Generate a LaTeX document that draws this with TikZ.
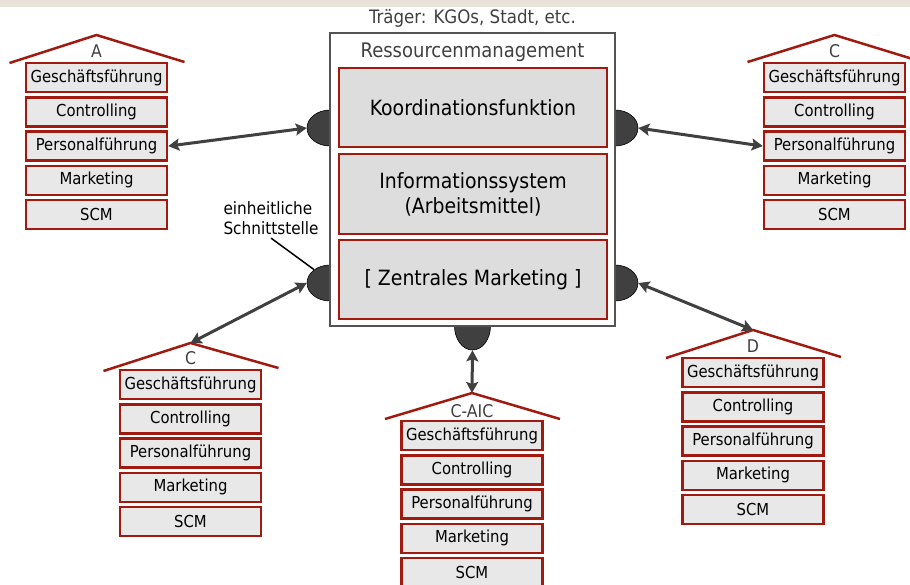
\documentclass[tikz,border=0pt]{standalone}
\usepackage{fontspec}
\setmainfont{DejaVu Sans Condensed}
\usepackage{xcolor}
\usetikzlibrary{arrows.meta,shapes.geometric}

\definecolor{darkred}{HTML}{A01A10}
\definecolor{boxgray}{HTML}{E8E8E8}
\definecolor{biggray}{HTML}{DDDDDD}
\definecolor{ink}{HTML}{404040}
\definecolor{band}{HTML}{E8E2D8}

\begin{document}
\begin{tikzpicture}[x=1pt,y=-1pt,
  unit/.style={draw=darkred,line width=2.5pt,fill=boxgray,minimum width=141pt,
    minimum height=29pt,inner sep=0pt,font=\fontsize{16.5}{18}\selectfont},
  roof/.style={draw=darkred,line width=2.5pt},
  tag/.style={text=ink,font=\fontsize{17.5}{18}\selectfont},
  field/.style={draw=darkred,line width=2.5pt,fill=biggray,minimum width=268pt,
    align=center,inner sep=0pt,font=\fontsize{21}{25}\selectfont},
  port/.style={ellipse,draw=black,fill=ink,line width=0.6pt,inner sep=0pt},
  link/.style={draw=ink,line width=3pt,{Stealth[length=11pt,width=12pt,inset=2pt]}-{Stealth[length=11pt,width=12pt,inset=2pt]}}]
  \useasboundingbox (0,0) rectangle (910,584);
  \fill[band] (0,0) rectangle (910,7);

  % interfaces, the box covers their inner halves
  \node[port,minimum width=46pt,minimum height=36pt] (el-lt) at (330,128) {};
  \node[port,minimum width=46pt,minimum height=36pt] (el-rt) at (615,128) {};
  \node[port,minimum width=46pt,minimum height=36pt] (el-lb) at (330,283) {};
  \node[port,minimum width=46pt,minimum height=36pt] (el-rb) at (615,283) {};
  \node[port,minimum width=36pt,minimum height=48pt] (el-b) at (472.5,326) {};

  % resource management block
  \node[draw=ink!90,line width=2.5pt,fill=white,minimum width=285pt,minimum height=293pt] (rm) at (472.5,179.5) {};
  \node[text=ink,font=\fontsize{18.5}{20}\selectfont] (tr) at (472.5,18) {Träger: KGOs, Stadt, etc.};
  \node[text=ink,font=\fontsize{20}{22}\selectfont] (rm-title) at (472.5,52) {Ressourcenmanagement};
  \node[field,minimum height=79pt] (kf) at (473,107.5) {Koordinationsfunktion};
  \node[field,minimum height=80pt] (is) at (473,194) {Informationssystem\\(Arbeitsmittel)};
  \node[field,minimum height=79pt] (zm) at (473,279.5) {[ Zentrales Marketing ]};

  % House A
  \begin{scope}[shift={(96.5,62)}]
    \draw[roof] (-87,1) -- (0,-27) coordinate (A-top) -- (88,0);
    \node[tag] (A-name) at (0,-11) {A};
    \foreach \t [count=\i] in {Geschäftsführung,Controlling,Personalführung,Marketing,SCM}
      \node[unit] (A-\i) at (0,{15.5+34.3*(\i-1)}) {\t};
  \end{scope}
  % House C, right
  \begin{scope}[shift={(834.5,62)}]
    \draw[roof] (-87,0) -- (0,-27) coordinate (Cr-top) -- (88,0);
    \node[tag] (Cr-name) at (0,-11) {C};
    \foreach \t [count=\i] in {Geschäftsführung,Controlling,Personalführung,Marketing,SCM}
      \node[unit] (Cr-\i) at (0,{15.5+34.3*(\i-1)}) {\t};
  \end{scope}
  % House C, bottom left
  \begin{scope}[shift={(190.5,369)}]
    \draw[roof] (-87,2) -- (0,-26) coordinate (Cl-top) -- (88,-1);
    \node[tag] (Cl-name) at (0,-11) {C};
    \foreach \t [count=\i] in {Geschäftsführung,Controlling,Personalführung,Marketing,SCM}
      \node[unit] (Cl-\i) at (0,{15.5+34.3*(\i-1)}) {\t};
  \end{scope}
  % House C-AIC
  \begin{scope}[shift={(472,420)}]
    \draw[roof] (-87,-1) -- (0,-27) coordinate (Ca-top) -- (88,-1);
    \node[tag] (Ca-name) at (0,-9) {C-AIC};
    \foreach \t [count=\i] in {Geschäftsführung,Controlling,Personalführung,Marketing,SCM}
      \node[unit] (Ca-\i) at (0,{15.5+34.3*(\i-1)}) {\t};
  \end{scope}
  % House D
  \begin{scope}[shift={(753,357)}]
    \draw[roof] (-87,1) -- (0,-27) coordinate (D-top) -- (88,0);
    \node[tag] (D-name) at (0,-11) {D};
    \foreach \t [count=\i] in {Geschäftsführung,Controlling,Personalführung,Marketing,SCM}
      \node[unit] (D-\i) at (0,{15.5+34.3*(\i-1)}) {\t};
  \end{scope}

  % links
  \draw[link] (A-3.east) -- (el-lt.west);
  \draw[link] (el-rt.east) -- (Cr-3.west);
  \draw[link] (Cl-top) -- (el-lb.west);
  \draw[link] (el-b.south) -- (Ca-top);
  \draw[link] (el-rb.east) -- (D-top);

  % note on the interface
  \node[align=left,anchor=west,font=\fontsize{17}{20}\selectfont] (note) at (220,218) {einheitliche\\Schnittstelle};
  \draw[line width=1.5pt] (note.south) -- (el-lb.140);
\end{tikzpicture}
\end{document}
